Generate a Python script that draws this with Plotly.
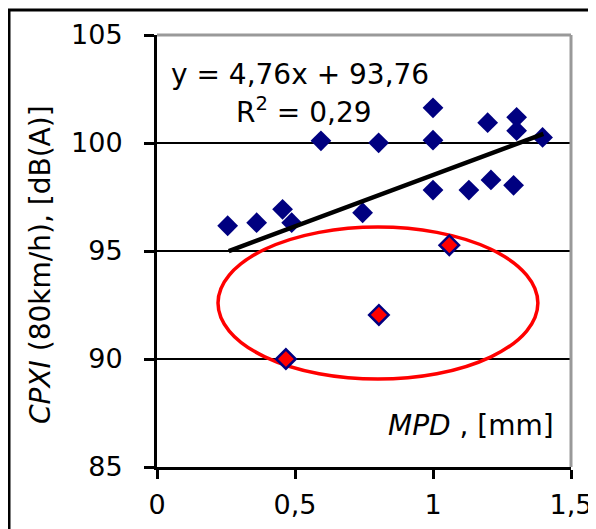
import plotly.graph_objects as go

# ---- data ----
blue_x = [0.256, 0.361, 0.455, 0.488, 0.594, 0.745, 0.803, 1.0, 1.0, 1.0,
          1.13, 1.198, 1.21, 1.292, 1.303, 1.303, 1.397]
blue_y = [96.17, 96.31, 96.93, 96.31, 100.10, 96.77, 100.01, 101.63, 100.13, 97.82,
          97.82, 100.94, 98.29, 98.04, 101.19, 100.57, 100.26]

red_x = [0.467, 0.804, 1.059]
red_y = [90.00, 92.04, 95.27]

slope = 4.76
intercept = 93.76
trend_x = [0.26, 1.40]
trend_y = [slope * v + intercept for v in trend_x]

x_ticks = [0, 0.5, 1, 1.5]
x_ticktext = ["0", "0,5", "1", "1,5"]
y_ticks = [85, 90, 95, 100, 105]
y_ticktext = ["85", "90", "95", "100", "105"]

ellipse_x = [0.221, 1.380]
ellipse_y = [89.07, 96.11]

FONT = "DejaVu Sans"
NAVY = "#000080"

fig = go.Figure()

fig.add_trace(go.Scatter(
    x=blue_x, y=blue_y, mode="markers",
    marker=dict(symbol="diamond", size=16, color=NAVY, line=dict(width=0)),
    showlegend=False, hoverinfo="skip"))

fig.add_trace(go.Scatter(
    x=trend_x, y=trend_y, mode="lines",
    line=dict(color="black", width=4.5),
    showlegend=False, hoverinfo="skip"))

fig.add_trace(go.Scatter(
    x=red_x, y=red_y, mode="markers",
    marker=dict(symbol="diamond", size=15, color="#FF0000", line=dict(width=2.5, color=NAVY)),
    showlegend=False, hoverinfo="skip"))

# the page body adds an 8px margin; lay the figure out in page pixels minus that offset
OFF = 8
# plot-area geometry in reference pixels: x 157..571, y 35..467
L, R, T, B = 157 - OFF, 571 - OFF, 35 - OFF, 467 - OFF
W, H = 596 - OFF, 529 - OFF
pw, ph = R - L, B - T

def px(xp):
    return (xp - OFF - L) / pw

def py(yp):
    return (B - (yp - OFF)) / ph

shapes = [
    dict(type="circle", xref="x", yref="y",
         x0=ellipse_x[0], x1=ellipse_x[1], y0=ellipse_y[0], y1=ellipse_y[1],
         line=dict(color="#FF0000", width=3.5), layer="between"),
    dict(type="line", xref="paper", yref="paper", x0=0, x1=1, y0=1, y1=1,
         line=dict(color="#999999", width=3)),
    dict(type="line", xref="paper", yref="paper", x0=1, x1=1, y0=0, y1=1,
         line=dict(color="#999999", width=3)),
    dict(type="rect", xref="paper", yref="paper",
         x0=px(9), x1=px(594), y0=py(545), y1=py(10),
         line=dict(color="black", width=3)),
]

annotations = [
    dict(text="y = 4,76x + 93,76", xref="paper", yref="paper",
         x=px(300), y=py(74), showarrow=False,
         font=dict(family=FONT, size=28, color="black"), xanchor="center", yanchor="middle"),
    dict(text="R<sup>2</sup> = 0,29", xref="paper", yref="paper",
         x=px(304), y=py(110), showarrow=False,
         font=dict(family=FONT, size=28, color="black"), xanchor="center", yanchor="middle"),
    dict(text="<i>MPD</i> , [mm]", xref="paper", yref="paper",
         x=px(556), y=py(425), showarrow=False,
         font=dict(family=FONT, size=28, color="black"), xanchor="right", yanchor="middle"),
    dict(text="<i>CPXI</i> (80km/h), [dB(A)]", xref="paper", yref="paper",
         x=px(40), y=py(265), showarrow=False, textangle=-90,
         font=dict(family=FONT, size=28, color="black"), xanchor="center", yanchor="middle"),
]

fig.update_layout(
    width=W, height=H,
    margin=dict(l=L, r=W - R, t=T, b=H - B, pad=0, autoexpand=False),
    paper_bgcolor="white", plot_bgcolor="white",
    shapes=shapes, annotations=annotations,
    font=dict(family=FONT, size=24, color="black"),
)

fig.update_xaxes(
    range=[0, 1.5], tickvals=x_ticks, ticktext=x_ticktext, automargin=False,
    showgrid=False, zeroline=False,
    showline=True, linecolor="black", linewidth=3,
    ticks="outside", ticklen=9, tickwidth=3, tickcolor="black",
    ticklabelstandoff=3,
    tickfont=dict(family=FONT, size=27, color="black"),
)
fig.update_yaxes(
    range=[85, 105], tickvals=y_ticks, ticktext=y_ticktext, automargin=False,
    showgrid=True, gridcolor="black", gridwidth=2, zeroline=False,
    showline=True, linecolor="black", linewidth=3,
    ticks="outside", ticklen=10, tickwidth=3, tickcolor="black",
    ticklabelstandoff=16,
    tickfont=dict(family=FONT, size=27, color="black"),
)

fig.write_html("out.html")
